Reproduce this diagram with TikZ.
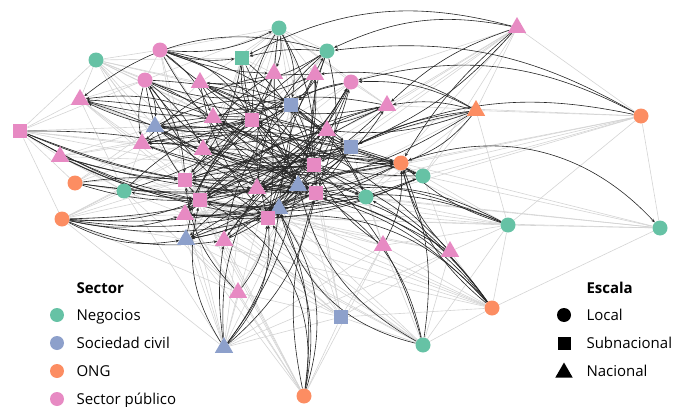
\documentclass[tikz,border=0pt]{standalone}
\usepackage{fontspec}
\setmainfont{Open Sans}
\usetikzlibrary{shapes.geometric,arrows.meta,backgrounds}
\definecolor{cNeg}{HTML}{66C2A5}
\definecolor{cSoc}{HTML}{8DA0CB}
\definecolor{cOng}{HTML}{FC8D62}
\definecolor{cPub}{HTML}{E78AC3}
\begin{document}
\begin{tikzpicture}[x=1pt,y=-1pt,
  C/.style={circle,minimum size=15pt,inner sep=0pt,draw=none},
  S/.style={rectangle,minimum size=14.5pt,inner sep=0pt,draw=none},
  T/.style={regular polygon,regular polygon sides=3,minimum size=21pt,inner sep=0pt,draw=none,yshift=-2.5pt},
  lt/.style={draw=black!17,line width=0.6pt},
  dk/.style={draw=black!85,line width=0.6pt,-{Stealth[length=3.5pt,width=3pt]}},
  lg/.style={anchor=base west,font=\fontsize{15}{17}\selectfont},
  lh/.style={anchor=base west,font=\fontsize{15}{17}\selectfont\bfseries}]
\useasboundingbox (0,0) rectangle (673,407);
% nodes
\node[C,fill=cNeg] (a1) at (279,28) {};
\node[T,fill=cPub] (a2) at (517,25) {};
\node[C,fill=cNeg] (a3) at (96,60) {};
\node[C,fill=cPub] (a4) at (160,50) {};
\node[S,fill=cNeg] (a5) at (242,58) {};
\node[C,fill=cNeg] (a6) at (327,51) {};
\node[C,fill=cPub] (a7) at (145,80) {};
\node[T,fill=cPub] (a8) at (200,80) {};
\node[T,fill=cPub] (a9) at (274,71) {};
\node[T,fill=cPub] (a10) at (315,72) {};
\node[C,fill=cPub] (a11) at (351,82) {};
\node[T,fill=cPub] (a12) at (80,97) {};
\node[S,fill=cSoc] (a13) at (291,105) {};
\node[T,fill=cPub] (a14) at (387,103) {};
\node[T,fill=cOng] (a15) at (476,108) {};
\node[C,fill=cOng] (a16) at (641,116) {};
\node[S,fill=cPub] (a17) at (20,131) {};
\node[T,fill=cSoc] (a18) at (155,124) {};
\node[T,fill=cPub] (a19) at (213,115) {};
\node[S,fill=cPub] (a20) at (252,120) {};
\node[T,fill=cPub] (a21) at (327,128) {};
\node[T,fill=cPub] (a22) at (142,141) {};
\node[T,fill=cPub] (a23) at (203,147) {};
\node[S,fill=cSoc] (a24) at (351,147) {};
\node[T,fill=cPub] (a25) at (60,154) {};
\node[C,fill=cOng] (a26) at (401,163) {};
\node[C,fill=cNeg] (a27) at (423,176) {};
\node[S,fill=cPub] (a28) at (314,165) {};
\node[C,fill=cOng] (a29) at (75,183) {};
\node[C,fill=cNeg] (a30) at (124,191) {};
\node[S,fill=cPub] (a31) at (185,180) {};
\node[T,fill=cPub] (a32) at (257,186) {};
\node[T,fill=cSoc] (a33) at (298,183) {};
\node[S,fill=cPub] (a34) at (316,193) {};
\node[C,fill=cNeg] (a35) at (366,197) {};
\node[S,fill=cPub] (a36) at (200,200) {};
\node[T,fill=cPub] (a37) at (185,212) {};
\node[T,fill=cSoc] (a38) at (279,206) {};
\node[S,fill=cPub] (a39) at (268,218) {};
\node[C,fill=cOng] (a40) at (62,219) {};
\node[T,fill=cSoc] (a41) at (186,237) {};
\node[T,fill=cPub] (a42) at (224,238) {};
\node[T,fill=cPub] (a43) at (383,243) {};
\node[T,fill=cPub] (a44) at (450,249) {};
\node[C,fill=cNeg] (a45) at (508,225) {};
\node[C,fill=cNeg] (a46) at (660,228) {};
\node[T,fill=cPub] (a47) at (238,290) {};
\node[S,fill=cSoc] (a48) at (341,317) {};
\node[C,fill=cOng] (a49) at (492,308) {};
\node[T,fill=cSoc] (a50) at (224,345) {};
\node[C,fill=cNeg] (a51) at (423,345) {};
\node[C,fill=cOng] (a52) at (304,396) {};
% edges
\begin{pgfonlayer}{background}
\foreach \a/\b in {a3/a7,a3/a8,a3/a18,a3/a19,a3/a12,a3/a22,a3/a20,a3/a13,a3/a5,a3/a4,a3/a31,a3/a17,a3/a23,a3/a36,a3/a28,
  a1/a4,a1/a7,a1/a8,a1/a19,a1/a20,a1/a13,a1/a9,a1/a10,a1/a11,a1/a21,a1/a28,a1/a5,a1/a6,a1/a14,a1/a23,a1/a31,a1/a36,a1/a32,
  a17/a12,a17/a25,a17/a29,a17/a30,a17/a18,a17/a22,a17/a7,a17/a40,a17/a36,a17/a33,a17/a28,
  a12/a7,a12/a18,a12/a22,a12/a31,a12/a36,a12/a30,a12/a28,a12/a33,
  a16/a15,a16/a45,a16/a46,a16/a27,a16/a14,a16/a35,a16/a26,a16/a2,a16/a33,a16/a34,
  a46/a45,a46/a49,a46/a27,a46/a35,a46/a26,a46/a34,a46/a39,
  a45/a49,a45/a51,a45/a44,a45/a43,a45/a35,a45/a27,a45/a24,a45/a31,a45/a36,a45/a37,
  a49/a51,a49/a48,a49/a43,a49/a44,a49/a38,a49/a41,a49/a36,a49/a31,a49/a37,
  a51/a48,a51/a43,a51/a44,a51/a39,a51/a42,a51/a32,a51/a31,a51/a36,a51/a37,
  a48/a39,a48/a38,a48/a33,a48/a42,a48/a47,a48/a41,a48/a43,a48/a44,a48/a34,a48/a28,a48/a31,a48/a36,a48/a37,
  a52/a48,a52/a47,a52/a42,a52/a41,a52/a43,a52/a37,a52/a31,a52/a36,
  a50/a41,a50/a37,a50/a47,a50/a31,a50/a30,a50/a40,a50/a48,a50/a44,a50/a43,a50/a28,a50/a20,a50/a13,
  a47/a41,a47/a37,a47/a36,a47/a40,a47/a30,a47/a28,a47/a33,
  a40/a30,a40/a31,a40/a37,a40/a41,a40/a28,a40/a20,a40/a13,
  a2/a15,a2/a11,a2/a27,a2/a35,a2/a24,a2/a14,a2/a32,a2/a28,
  a15/a27,a15/a35,a15/a45,a15/a31,a15/a36,a15/a39,
  a29/a30,a29/a18,a29/a22,a29/a28,a29/a20,a25/a18,a25/a30,a25/a22,a25/a28,a25/a20,
  a31/a20,a36/a33,a37/a38,a22/a19,a18/a8,a23/a13,a36/a28,a41/a38,a42/a33,a30/a31,a30/a37,a30/a22,a30/a28,a30/a33,
  a4/a8,a4/a7,a4/a31,a4/a36,a4/a39,a5/a9,a5/a36,a5/a37,a6/a10,a6/a31,a6/a37,a6/a41,
  a11/a14,a11/a37,a11/a31,a14/a31,a14/a36,a21/a24,a26/a27,a35/a43,a44/a27,a43/a24,
  a43/a31,a43/a36,a44/a36,a44/a39,a35/a37,a27/a31,a27/a37,a26/a36,a26/a41}
  \draw[lt] (\a) -- (\b);
\foreach \a/\b/\c in {a2/a5/-14,a2/a6/-12,a2/a14/-8,a2/a26/-6,a2/a24/8,
  a16/a6/-12,a16/a24/-12,a16/a11/-14,
  a15/a14/-8,a15/a11/-10,a15/a26/10,a15/a24/-6,a15/a28/-5,a15/a10/-12,a15/a21/8,a15/a33/6,
  a26/a46/22,a1/a9/10,a1/a20/-10,a1/a13/12,a1/a28/10,a1/a33/-10,
  a4/a5/-8,a4/a1/-10,a4/a9/-6,a4/a19/10,a4/a20/15,a4/a13/8,a4/a21/-10,a4/a28/12,a4/a34/-12,
  a7/a18/10,a7/a22/-8,a7/a31/12,a7/a36/-10,a7/a23/8,a7/a32/15,a7/a13/-12,a7/a10/-15,a7/a24/10,a7/a39/-10,
  a5/a20/-8,a5/a31/10,a5/a33/-12,a5/a28/10,a5/a39/12,
  a6/a5/-6,a6/a13/10,a6/a28/-8,a6/a34/12,a6/a32/-14,a6/a8/12,a6/a12/-18,a6/a37/-10,
  a9/a31/10,a9/a23/-10,a9/a34/10,a9/a39/-12,a10/a36/12,a10/a22/-15,a10/a18/15,a10/a39/12,
  a11/a13/-8,a11/a32/10,a11/a31/-12,a11/a36/14,a11/a41/10,a11/a42/12,
  a8/a28/10,a8/a34/-10,a8/a24/12,a8/a26/-12,a8/a39/-10,a8/a33/12,
  a14/a20/12,a14/a19/-10,a14/a32/8,a14/a37/-10,a14/a8/12,a14/a42/-10,
  a19/a12/-10,a20/a12/12,a28/a12/-8,a32/a12/-6,a13/a12/8,
  a13/a22/10,a13/a37/-12,a13/a39/8,a13/a42/-10,a13/a35/10,a13/a26/-10,
  a21/a31/12,a21/a36/-10,a21/a41/12,a21/a37/-12,
  a24/a32/10,a24/a36/-8,a24/a23/12,a24/a18/-12,a24/a41/12,
  a26/a31/-10,a26/a20/12,a26/a37/10,a26/a22/-10,a26/a18/14,
  a27/a36/12,a27/a23/-12,a27/a19/10,a27/a37/10,a27/a22/-10,
  a28/a22/10,a28/a41/-10,a28/a30/12,
  a33/a19/-10,a33/a7/12,a33/a14/-10,a34/a18/-10,a34/a37/10,a34/a11/10,
  a35/a23/-12,a35/a31/10,a35/a13/-8,a35/a18/10,
  a18/a28/10,a18/a34/-12,a18/a20/-10,a18/a13/12,a22/a33/10,a22/a20/10,a22/a28/-8,
  a19/a28/-10,a19/a34/8,a20/a33/10,a20/a35/-10,a23/a34/10,a23/a28/-8,a23/a26/-10,
  a31/a27/12,a31/a33/-10,a31/a35/12,a36/a27/-10,a36/a34/-10,a36/a26/12,
  a37/a33/-12,a37/a28/10,a39/a24/-10,a39/a26/12,a32/a26/-10,a32/a14/12,a32/a24/10,
  a38/a10/-12,a38/a6/8,a38/a11/-10,a39/a21/12,
  a41/a33/-10,a41/a20/12,a42/a28/-10,a42/a24/12,
  a17/a31/-4,a17/a36/-6,a17/a32/-5,a17/a39/-7,a17/a23/4,
  a25/a31/-4,a25/a36/-6,a25/a34/-5,a25/a38/-8,
  a29/a31/4,a29/a32/-4,a29/a36/-6,a29/a33/-5,
  a40/a36/-8,a40/a37/-10,a40/a41/-12,a40/a42/-10,a40/a39/-8,a40/a34/-6,a40/a38/-7,a40/a32/-5,
  a30/a20/10,a30/a13/-6,
  a50/a39/-15,a50/a38/-10,a50/a33/-8,a50/a34/-12,a50/a32/10,a50/a36/15,a50/a42/5,
  a47/a39/-10,a47/a31/12,
  a52/a39/-15,a52/a38/-10,a52/a34/10,a52/a32/-20,a52/a36/-25,
  a51/a34/-15,a51/a28/-10,a51/a33/15,a51/a38/20,a51/a26/-10,
  a49/a34/-12,a49/a28/-10,a49/a33/-15,a49/a39/-18,a49/a35/-8,a49/a32/-14,a49/a26/12,
  a43/a26/-10,a43/a28/10,a44/a26/10,a44/a31/-10,a44/a20/-8,
  a45/a32/-10,a45/a34/-12,a45/a39/-14,a45/a26/8}
  {\pgfmathsetmacro\cc{1.5*\c}
  \draw[dk] (\a) to[bend left=\cc] (\b);}
\end{pgfonlayer}
% legend
\node[lh] (ls) at (73,293) {Sector};
\node[C,fill=cNeg,minimum size=14pt] (l1) at (57,315) {};
\node[lg] (t1) at (73,320.5) {Negocios};
\node[C,fill=cSoc,minimum size=14pt] (l2) at (57,343) {};
\node[lg] (t2) at (73,348.5) {Sociedad civil};
\node[C,fill=cOng,minimum size=14pt] (l3) at (57,371) {};
\node[lg] (t3) at (73,376.5) {ONG};
\node[C,fill=cPub,minimum size=14pt] (l4) at (57,399) {};
\node[lg] (t4) at (73,404.5) {Sector público};
\node[lh] (le) at (583,293) {Escala};
\node[C,fill=black,minimum size=14pt] (m1) at (564,315) {};
\node[lg] (u1) at (583,320.5) {Local};
\node[S,fill=black,minimum size=13pt] (m2) at (564,343) {};
\node[lg] (u2) at (583,348.5) {Subnacional};
\node[T,fill=black,minimum size=20pt] (m3) at (564,370) {};
\node[lg] (u3) at (583,376.5) {Nacional};
\end{tikzpicture}
\end{document}
